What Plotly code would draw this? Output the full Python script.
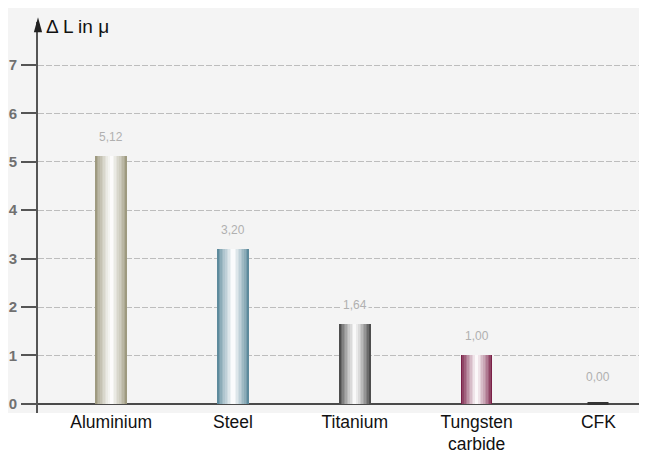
import plotly.graph_objects as go

categories = ["Aluminium", "Steel", "Titanium", "Tungsten<br>carbide", "CFK"]
values = [5.12, 3.20, 1.64, 1.00, 0.00]
value_labels = ["5,12", "3,20", "1,64", "1,00", "0,00"]
dark_colors = ["#9e9a80", "#5d8a9c", "#4e4e4e", "#7a2047", "#3a3a3a"]
tick_vals = [0, 1, 2, 3, 4, 5, 6, 7]
tick_text = ["0", "1", "2", "3", "4", "5", "6", "7"]

BG = "#f4f4f4"
FONT = "Liberation Sans, Arial, Helvetica"


def mix(hex_color, t):
    h = hex_color.lstrip("#")
    r, g, b = int(h[0:2], 16), int(h[2:4], 16), int(h[4:6], 16)
    r = int(r + (255 - r) * t)
    g = int(g + (255 - g) * t)
    b = int(b + (255 - b) * t)
    return f"rgb({r},{g},{b})"


fig = go.Figure()

# layered bars to imitate the cylindrical gradient
n_layers = 10
for k in range(n_layers):
    w = 0.26 * (1 - k / n_layers)
    t = (k / (n_layers - 1)) ** 0.8 * 0.97
    fig.add_trace(go.Bar(
        x=categories, y=values, width=[w] * len(values),
        marker=dict(color=[mix(c, t) for c in dark_colors], line=dict(width=0)),
        hoverinfo="skip", showlegend=False,
    ))

# zero-height CFK bar drawn as a dark stub
fig.add_trace(go.Bar(
    x=categories, y=values, width=[0.18] * len(values),
    marker=dict(color="rgba(0,0,0,0)",
                line=dict(width=[0, 0, 0, 0, 3], color="#333")),
    hoverinfo="skip", showlegend=False,
))

for cat, v, lab in zip(categories, values, value_labels):
    fig.add_annotation(
        x=cat, y=v, text=lab, showarrow=False,
        yshift=27 if v == 0 else 19,
        font=dict(family=FONT, size=12, color="#b0b0b0"),
        bgcolor=BG, borderpad=1,
    )

fig.add_annotation(
    x=0, xref="paper", y=1.0, yref="paper", xanchor="left", yanchor="middle",
    text="\u0394 L in \u03bc", showarrow=False, xshift=6, yshift=-4,
    font=dict(family=FONT, size=19, color="#111"),
)

shapes = [
    # light background panel
    dict(type="rect", xref="paper", yref="paper", x0=-0.06, x1=1.01, y0=0.0, y1=1.05,
         fillcolor=BG, line=dict(width=0), layer="below"),
    # y-axis arrow head
    dict(type="path", xref="paper", yref="paper",
         path="M -0.0068 0.974 L 0.0068 0.974 L 0 1.012 Z",
         fillcolor="#222", line=dict(width=0)),
    # right axis line and arrow head
    dict(type="line", xref="paper", yref="paper", x0=1.0, x1=1.0, y0=0.0, y1=0.96,
         line=dict(color="#555", width=1)),
    dict(type="path", xref="paper", yref="paper",
         path="M 0.994 0.965 L 1.006 0.965 L 1.0 1.0 Z",
         fillcolor="#222", line=dict(width=0)),
]

fig.update_layout(
    width=639, height=446,
    margin=dict(l=30, r=1, t=14, b=41, autoexpand=False),
    paper_bgcolor="white", plot_bgcolor=BG,
    barmode="overlay", bargap=0,
    shapes=shapes,
    font=dict(family=FONT),
    xaxis=dict(
        range=[-0.6, 4.39], showgrid=False, zeroline=False, showline=False,
        ticks="", tickfont=dict(size=17.5, color="#111"), fixedrange=True,
        automargin=False, ticklabelstandoff=-4,
    ),
    yaxis=dict(
        range=[-0.19, 7.89], tickvals=tick_vals, ticktext=tick_text,
        showgrid=True, gridcolor="#bdbdbd", griddash="6px,2px", gridwidth=1,
        zeroline=True, zerolinecolor="#4a4a4a", zerolinewidth=2,
        showline=True, linecolor="#555", linewidth=2,
        ticks="outside", ticklen=15, tickwidth=2, tickcolor="#555",
        tickfont=dict(size=15, color="#707070", family="Liberation Sans", weight="bold"),
        ticklabelstandoff=1, automargin=False,
    ),
)

fig.write_html("out.html")
